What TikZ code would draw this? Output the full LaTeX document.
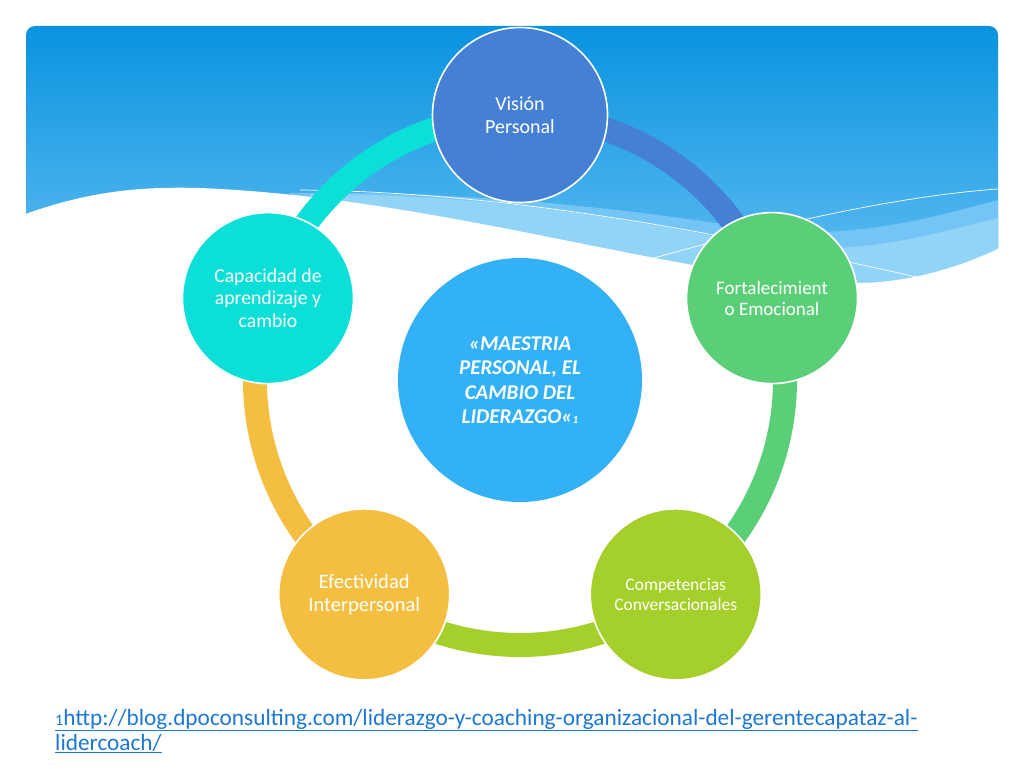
\documentclass[tikz,border=0pt]{standalone}
\usepackage{fontspec}
\setmainfont{Carlito}
\usetikzlibrary{calc}
\begin{document}
\begin{tikzpicture}[x=1pt,y=-1pt,
  bubble/.style={circle,draw=white,line width=1.6pt,inner sep=0pt,text=white,align=center,font=\fontsize{20}{23}\selectfont},
  ringarc/.style={line width=24pt}]
\definecolor{cVis}{HTML}{4680D4}
\definecolor{cCen}{HTML}{32B1F6}
\definecolor{cFor}{HTML}{5BCF78}
\definecolor{cCom}{HTML}{A5CF2A}
\definecolor{cEfe}{HTML}{F4BF41}
\definecolor{cCap}{HTML}{0CDFD8}
\definecolor{hdrTop}{HTML}{0A93DF}
\definecolor{hdrBot}{HTML}{62BEF3}
\definecolor{bandA}{HTML}{74C5F5}
\definecolor{bandB}{HTML}{92D3F8}
\definecolor{linkblue}{HTML}{1E78D2}
\useasboundingbox (0,0) rectangle (1024,768);
\fill[white] (0,0) rectangle (1024,768);
% header
\shade[top color=hdrTop,bottom color=hdrBot,rounded corners=9pt] (26,290) -- (26,26) -- (998,26) -- (998,290) -- cycle;
% light bands
\fill[bandA] (290,193) .. controls (480,190) and (650,212) .. (760,230) .. controls (860,240) and (940,215) .. (998,200) -- (998,290) -- (290,290) -- cycle;
\fill[bandB] (310,194) .. controls (500,194) and (640,222) .. (760,245) .. controls (860,258) and (940,232) .. (998,218) -- (998,290) -- (310,290) -- cycle;
% thin white lines
\draw[white,line width=0.7pt] (300,190) .. controls (500,192) and (700,228) .. (930,280);
\draw[white,line width=0.7pt] (640,262) .. controls (780,222) and (900,196) .. (998,189);
% white wave
\fill[white] (20,216) .. controls (80,194) and (130,186) .. (200,188) .. controls (450,198) and (700,285) .. (860,283) .. controls (920,282) and (970,262) .. (1000,248) -- (1000,300) -- (20,300) -- cycle;
% ring
\coordinate (ctr) at (520,380);
\draw[ringarc,cVis] (ctr) ++(-90:265) arc[start angle=-90,end angle=-18,radius=265];
\draw[ringarc,cFor] (ctr) ++(-18:265) arc[start angle=-18,end angle=54,radius=265];
\draw[ringarc,cCom] (ctr) ++(54:265) arc[start angle=54,end angle=126,radius=265];
\draw[ringarc,cEfe] (ctr) ++(126:265) arc[start angle=126,end angle=198,radius=265];
\draw[ringarc,cCap] (ctr) ++(198:265) arc[start angle=198,end angle=270,radius=265];
% circles
\node[bubble,fill=cCen,draw=none,minimum size=244pt,font=\fontsize{21}{24.5}\selectfont\bfseries\itshape] (cen) at (ctr) {«MAESTRIA\\PERSONAL, EL\\CAMBIO DEL\\LIDERAZGO«{\fontsize{11}{12}\selectfont 1}};
\node[bubble,fill=cVis,minimum size=175pt] (vis) at ($(ctr)+(-90:265)$) {Visión\\Personal};
\node[bubble,fill=cFor,minimum size=171pt,font=\fontsize{19}{21}\selectfont] (for) at ($(ctr)+(-18:265)$) {Fortalecimient\\o Emocional};
\node[bubble,fill=cCom,minimum size=171pt,font=\fontsize{17.5}{19.5}\selectfont] (com) at ($(ctr)+(54:265)$) {Competencias\\Conversacionales};
\node[bubble,fill=cEfe,minimum size=171pt,font=\fontsize{20.5}{23}\selectfont] (efe) at ($(ctr)+(126:265)$) {Efectividad\\Interpersonal};
\node[bubble,fill=cCap,minimum size=171pt,font=\fontsize{19.7}{22.5}\selectfont] (cap) at ($(ctr)+(198:265)$) {Capacidad de\\aprendizaje y\\cambio};
% footnote
\node[anchor=base west,inner sep=0pt,text=linkblue,align=left,font=\fontsize{23.3}{25}\selectfont] (foot) at (55,750)
  {\underline{{\fontsize{16}{16}\selectfont 1}http://blog.dpoconsulting.com/liderazgo-y-coaching-organizacional-del-gerentecapataz-al-}\\\underline{lidercoach/}};
\end{tikzpicture}
\end{document}
